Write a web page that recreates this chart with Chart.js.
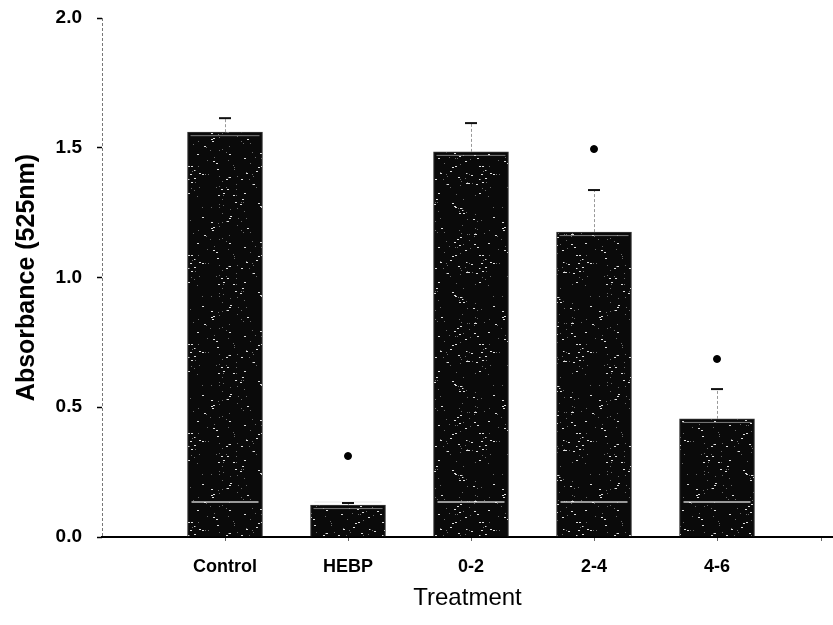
<!DOCTYPE html>
<html>
<head>
<meta charset="utf-8">
<script src="https://cdn.jsdelivr.net/npm/chart.js@4.4.1/dist/chart.umd.min.js"></script>
<style>
  html, body { margin: 0; padding: 0; background: #fff; overflow: hidden; }
  #wrap { width: 838px; height: 625px; }
</style>
</head>
<body>
<div id="wrap"><canvas id="chart"></canvas></div>
<script>
// values
const categories = ['Control', 'HEBP', '0-2', '2-4', '4-6'];
const means = [1.56, 0.123, 1.484, 1.175, 0.455];
const errorTops = [1.614, 0.131, 1.595, 1.337, 0.570];
const markers = [null, 0.312, null, 1.495, 0.686];
const yTicks = [0, 0.5, 1.0, 1.5, 2.0];

const positions = categories.map((c, i) => i + 1);
const xTicks = positions.concat([5.85]);

// dark speckled fill, like the scanned bars
function makeTexture() {
    const c = document.createElement('canvas');
    c.width = 97; c.height = 89;
    const g = c.getContext('2d');
    g.fillStyle = '#0a0a0a';
    g.fillRect(0, 0, c.width, c.height);
    for (let y = 0; y < c.height; y++) {
        for (let x = 0; x < c.width; x++) {
            let h = (x * 374761393 + y * 668265263) | 0;
            h = Math.imul(h ^ (h >>> 13), 1274126177);
            h = ((h ^ (h >>> 16)) >>> 0) % 1000;
            if (h < 9) { g.fillStyle = '#e0e0e0'; g.fillRect(x, y, 2, 1); }
            else if (h < 22) { g.fillStyle = '#6a6a6a'; g.fillRect(x, y, 1, 1); }
        }
    }
    return g.createPattern(c, 'repeat');
}

const noPad = (s) => { s.paddingTop = 0; s.paddingBottom = 0; s.paddingLeft = 0; s.paddingRight = 0; };

const decorPlugin = {
    id: 'decor',
    beforeDatasetsDraw(chart) {
        const { ctx, chartArea, scales } = chart;
        // dashed y axis line
        ctx.save();
        ctx.strokeStyle = '#777';
        ctx.lineWidth = 1;
        ctx.setLineDash([3, 2]);
        ctx.beginPath();
        ctx.moveTo(chartArea.left + 0.5, scales.y.getPixelForValue(2.0));
        ctx.lineTo(chartArea.left + 0.5, chartArea.bottom);
        ctx.stroke();
        ctx.restore();
    },
    afterDatasetsDraw(chart) {
        const { ctx, scales } = chart;
        const meta = chart.getDatasetMeta(0);
        ctx.save();
        meta.data.forEach((bar, i) => {
            const x = bar.x;
            const half = bar.width / 2;
            // light streak near the bottom of each bar
            const yl = scales.y.getPixelForValue(0.135);
            ctx.strokeStyle = 'rgba(235,235,235,0.85)';
            ctx.lineWidth = 1.5;
            ctx.beginPath();
            ctx.moveTo(x - half + 4, yl);
            ctx.lineTo(x + half - 4, yl);
            ctx.stroke();
            // light rim just under the bar top
            ctx.strokeStyle = 'rgba(200,200,200,0.6)';
            ctx.lineWidth = 1;
            ctx.beginPath();
            ctx.moveTo(x - half + 3, bar.y + 3.5);
            ctx.lineTo(x + half - 3, bar.y + 3.5);
            ctx.stroke();

            // error bar
            const yTop = scales.y.getPixelForValue(errorTops[i]);
            ctx.strokeStyle = '#999';
            ctx.lineWidth = 1;
            ctx.setLineDash([3, 2]);
            ctx.beginPath();
            ctx.moveTo(x + 0.5, bar.y);
            ctx.lineTo(x + 0.5, yTop);
            ctx.stroke();
            ctx.setLineDash([]);
            ctx.strokeStyle = '#111';
            ctx.lineWidth = 2;
            ctx.beginPath();
            ctx.moveTo(x - 6, yTop);
            ctx.lineTo(x + 6, yTop);
            ctx.stroke();
        });
        ctx.restore();
    }
};

Chart.register(decorPlugin);

const ctx = document.getElementById('chart').getContext('2d');
new Chart(ctx, {
    type: 'bar',
    data: {
        datasets: [{
            data: positions.map((p, i) => ({ x: p, y: means[i] })),
            backgroundColor: makeTexture(),
            borderColor: '#3a3a3a',
            borderWidth: 1,
            barThickness: 75,
            order: 2
        }, {
            type: 'scatter',
            data: positions.map((p, i) => ({ x: p, y: markers[i] })),
            pointRadius: 3.5,
            pointBackgroundColor: '#000',
            pointBorderColor: '#000',
            order: 1
        }]
    },
    options: {
        responsive: true,
        maintainAspectRatio: false,
        animation: false,
        layout: { padding: { top: 18, right: 0, bottom: 0, left: 0 } },
        plugins: { legend: { display: false }, tooltip: { enabled: false } },
        scales: {
            x: {
                type: 'linear',
                offset: false,
                min: 0,
                max: 5.943,
                afterFit: (s) => { s.height = 88; noPad(s); },
                afterBuildTicks: (s) => { s.ticks = xTicks.map(v => ({ value: v })); },
                border: { display: true, color: '#000', width: 2 },
                grid: { offset: false, drawOnChartArea: false, drawTicks: true, tickLength: 4, tickColor: '#666', tickWidth: 1 },
                ticks: {
                    padding: 15,
                    color: '#000',
                    autoSkip: false,
                    maxRotation: 0,
                    font: { family: 'Liberation Sans, Arial, sans-serif', size: 18, weight: 'bold' },
                    callback: (v) => categories[v - 1] || ''
                },
                title: {
                    display: true,
                    text: 'Treatment',
                    color: '#000',
                    padding: { top: 0, bottom: 12 },
                    font: { family: 'Liberation Sans, Arial, sans-serif', size: 24 }
                }
            },
            y: {
                min: 0,
                max: 2,
                afterFit: (s) => { s.width = 102; noPad(s); },
                afterBuildTicks: (s) => { s.ticks = yTicks.map(v => ({ value: v })); },
                border: { display: false },
                grid: { drawOnChartArea: false, drawTicks: true, tickLength: 5, tickColor: '#000', tickWidth: 1.5 },
                ticks: {
                    padding: 15,
                    color: '#000',
                    font: { family: 'Liberation Sans, Arial, sans-serif', size: 19, weight: 'bold' },
                    callback: (v) => v.toFixed(1)
                },
                title: {
                    display: true,
                    text: 'Absorbance (525nm)',
                    color: '#000',
                    padding: { top: 12, bottom: 0 },
                    font: { family: 'Liberation Sans, Arial, sans-serif', size: 25, weight: 'bold' }
                }
            }
        }
    }
});
</script>
</body>
</html>
